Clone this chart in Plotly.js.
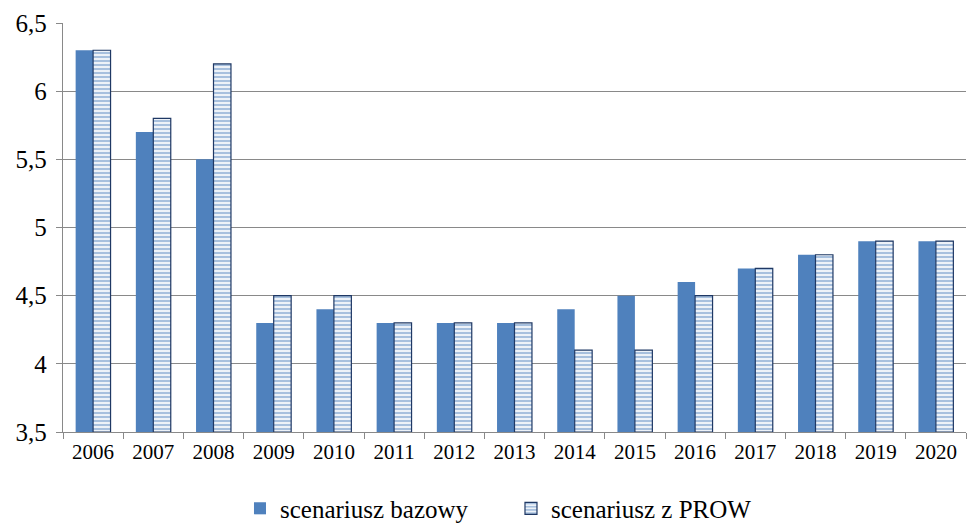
<!DOCTYPE html>
<html>
<head>
<meta charset="utf-8">
<script src="https://cdn.plot.ly/plotly-3.0.1.min.js"></script>
<style>
html,body{margin:0;padding:0;background:#fff;}
#chart{width:967px;height:523px;}
#chart text{font-family:'Liberation Serif','Times New Roman',serif !important;}
</style>
</head>
<body>
<div id="chart"></div>
<script>
const years = ['2006','2007','2008','2009','2010','2011','2012','2013','2014','2015','2016','2017','2018','2019','2020'];
const bazowy = [6.3,5.7,5.5,4.3,4.4,4.3,4.3,4.3,4.4,4.5,4.6,4.7,4.8,4.9,4.9];
const prow = [6.3,5.8,6.2,4.5,4.5,4.3,4.3,4.3,4.1,4.1,4.5,4.7,4.8,4.9,4.9];
const seriesNames = ['scenariusz bazowy','scenariusz z PROW'];
const axisMin = 3.5;

const font = 'Liberation Serif';
const traces = [
  {type:'bar', x:years, y:bazowy.map(v=>v-axisMin), base:axisMin, name:seriesNames[0],
   marker:{color:'#4F81BD', line:{width:0}}},
  {type:'bar', x:years, y:prow.map(v=>v-axisMin), base:axisMin, name:seriesNames[1],
   marker:{color:'#4F81BD', line:{color:'#1F3864', width:1.2},
     pattern:{shape:'-', bgcolor:'#ffffff', fgcolor:'#4F81BD', size:4, solidity:0.6, fillmode:'overlay'}}}
];

const layout = {
  width:967, height:523,
  margin:{l:63, r:1, t:23, b:91, autoexpand:false},
  paper_bgcolor:'#fff', plot_bgcolor:'#fff',
  separators:', ',
  font:{family:font, color:'#000', size:21},
  barmode:'group', bargap:0.42, bargroupgap:0,
  xaxis:{type:'category', showline:true, linecolor:'#898989', linewidth:1.3,
    ticks:'outside', tickson:'boundaries', ticklen:6, tickcolor:'#898989',
    tickfont:{family:font, size:21, color:'#000'}, showgrid:false, zeroline:false, automargin:false},
  yaxis:{range:[3.5,6.5], dtick:0.5, tick0:3.5, showline:true, linecolor:'#898989', linewidth:1.3,
    ticks:'outside', ticklen:6, tickcolor:'#898989', gridcolor:'#898989', gridwidth:1.3,
    tickfont:{family:font, size:25, color:'#000'}, zeroline:false, ticklabelstandoff:4, automargin:false},
  showlegend:true,
  legend:{orientation:'h', x:0.196, xanchor:'left', y:-0.131, yanchor:'top',
    font:{family:font, size:25, color:'#000'}, entrywidth:226, entrywidthmode:'pixels',
    itemwidth:30, traceorder:'normal'}
};
Plotly.newPlot('chart', traces, layout, {staticPlot:true});
</script>
</body>
</html>
